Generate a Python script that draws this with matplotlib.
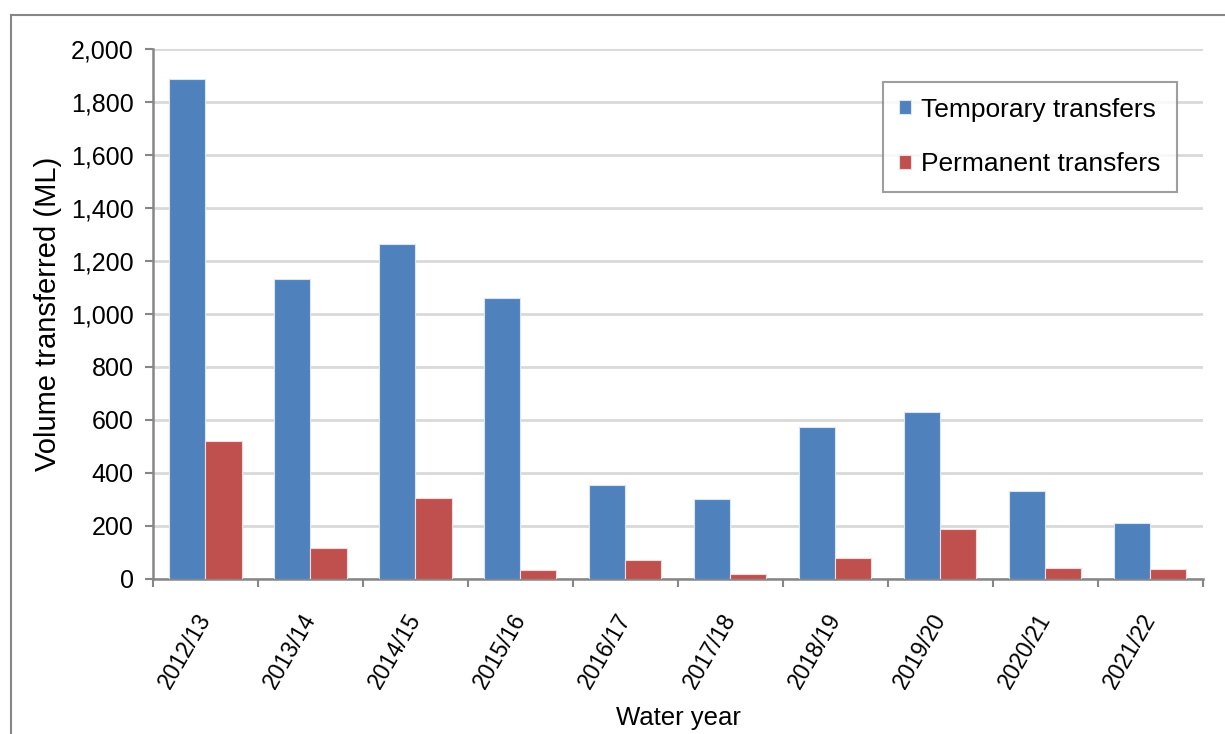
import matplotlib.pyplot as plt
import numpy as np
from matplotlib.patches import Rectangle

years = ['2012/13', '2013/14', '2014/15', '2015/16', '2016/17',
         '2017/18', '2018/19', '2019/20', '2020/21', '2021/22']
temporary = [1887, 1131, 1263, 1060, 355, 301, 572, 632, 333, 211]
permanent = [522, 116, 305, 33, 73, 20, 79, 187, 41, 37]

plt.rcParams['font.family'] = ['Liberation Sans', 'DejaVu Sans']

fig = plt.figure(figsize=(12.25, 7.34), dpi=100)
ax = fig.add_axes([0.1249, 0.2112, 0.8571, 0.7220])

x = np.arange(len(years))
w = 0.343
ax.bar(x - w / 2, temporary, w, color='#4F81BD', edgecolor='#DCE6F2', linewidth=0.8,
       label='Temporary transfers', zorder=3)
ax.bar(x + w / 2, permanent, w, color='#C0504D', edgecolor='#F2DCDB', linewidth=0.8,
       label='Permanent transfers', zorder=3)

ax.set_xlim(-0.5, len(years) - 0.5)
ax.set_ylim(0, 2000)
ax.set_yticks(np.arange(0, 2001, 200))
ax.set_yticklabels([f'{v:,}' for v in range(0, 2001, 200)], fontsize=18)
ax.yaxis.grid(True, color='#D9D9D9', linewidth=2, zorder=0)
ax.set_axisbelow(True)

ax.set_xticks(x)
ax.set_xticklabels(years, rotation=60, ha='right', va='center', rotation_mode='anchor',
                   fontsize=16.5)
ax.set_xticks(np.arange(-0.5, len(years)), minor=True)
ax.tick_params(axis='x', which='major', length=0, pad=26)
ax.tick_params(axis='x', which='minor', length=6, width=1.5, color='#868686')
ax.tick_params(axis='y', length=6, width=1.5, color='#868686', pad=8)

for s in ['top', 'right']:
    ax.spines[s].set_visible(False)
for s in ['left', 'bottom']:
    ax.spines[s].set_color('#868686')
    ax.spines[s].set_linewidth(1.8)

ax.set_ylabel('Volume transferred (ML)', fontsize=21, labelpad=6)
ax.set_xlabel('Water year', fontsize=18.5, labelpad=10)

leg = ax.legend(loc='upper right', bbox_to_anchor=(0.975, 0.938), fontsize=19,
                frameon=True, fancybox=False, edgecolor='#868686',
                handlelength=0.45, handleheight=0.45, handletextpad=0.4,
                labelspacing=1.15, borderpad=0.6, borderaxespad=0)
leg.get_frame().set_linewidth(1.5)

fig.patches.append(Rectangle((11 / 1225, -0.05), 1.1, 1 - 15 / 734 + 0.05,
                             transform=fig.transFigure, fill=False,
                             edgecolor='#868686', linewidth=1.5))

fig.savefig('out.png', dpi=100)
